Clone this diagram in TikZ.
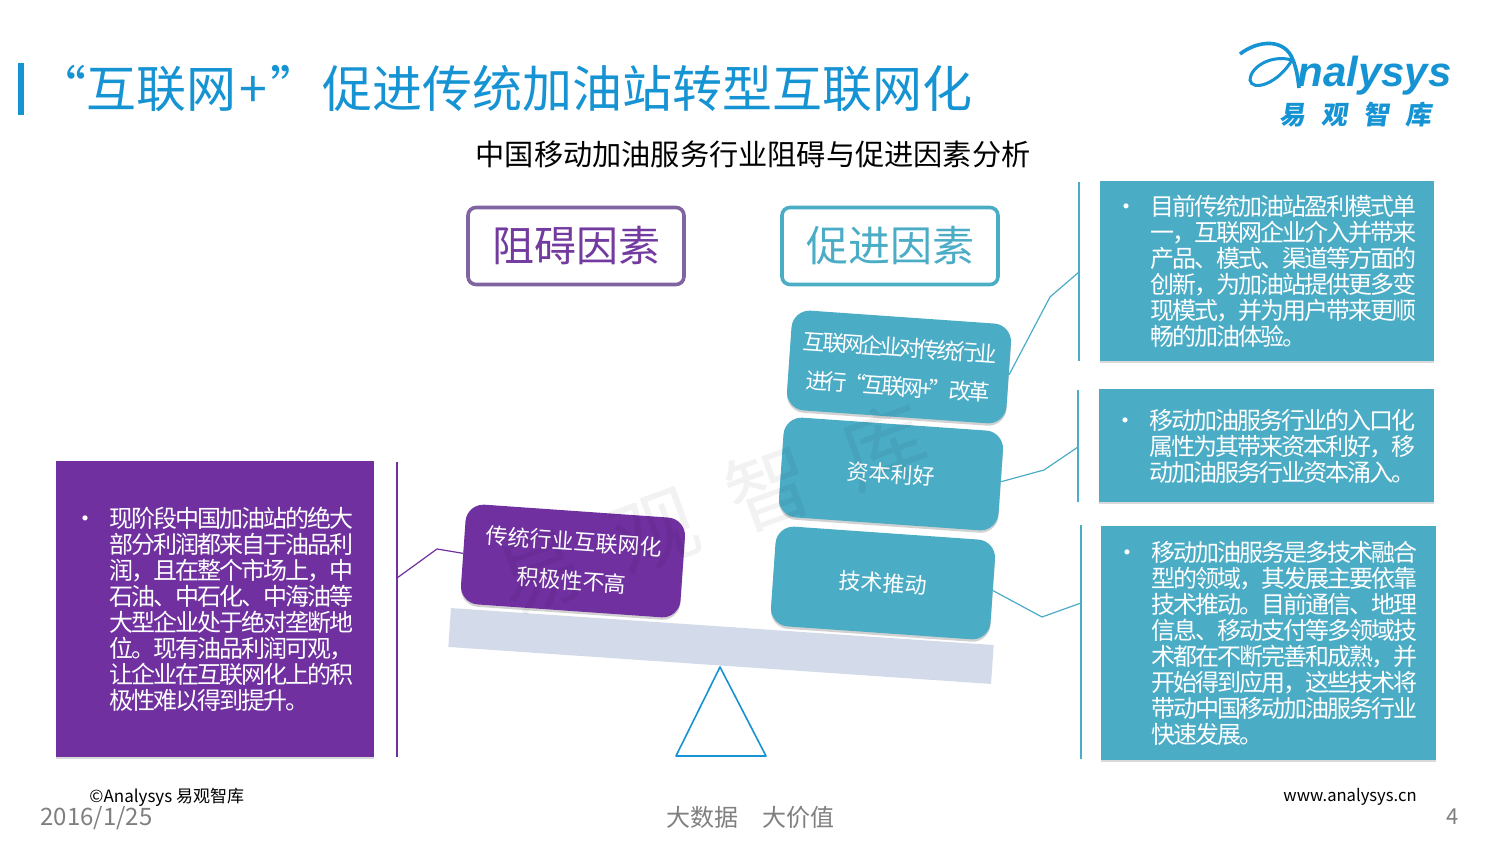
\documentclass[tikz,border=0pt]{standalone}
\usepackage{fontspec}
\usepackage{xcolor}
\usetikzlibrary{positioning, shadows}
\setmainfont{Noto Sans CJK SC}
\newfontfamily\bodyfont[LetterSpace=-8]{Noto Sans CJK SC}
\newfontfamily\tightfont[LetterSpace=-13]{Noto Sans CJK SC}
\newfontfamily\logofont[FakeSlant=0.15]{Noto Sans CJK SC}
\newfontfamily\logolatin{Liberation Sans}
\definecolor{titleblue}{HTML}{1593D3}
\definecolor{tealbox}{HTML}{4BACC6}
\definecolor{violet}{HTML}{7030A0}
\definecolor{softviolet}{HTML}{8064A2}
\definecolor{beamgray}{HTML}{D3DAE9}
\definecolor{footgray}{HTML}{7F7F7F}

\begin{document}
\begin{tikzpicture}[
  x=0.5pt, y=-0.5pt,
  panel/.style={minimum width=#1, inner sep=0pt, text=white,
                drop shadow={shadow xshift=0pt, shadow yshift=-1pt, opacity=0.25, fill=black!60}},
  bodytext/.style={inner sep=0pt, text=white, align=left, font=\bodyfont\fontsize{12}{13}\selectfont},
  factor/.style={draw=#1, line width=1.8pt, rounded corners=4pt, minimum width=108pt,
                 minimum height=38.5pt, inner sep=0pt, font=\fontsize{21}{24}\selectfont},
  weight/.style={fill=#1, rounded corners=9pt, text=white, minimum width=110pt, minimum height=50pt,
                 inner sep=0pt, rotate=-4, align=center, font=\fontsize{11}{19.5}\selectfont,
                 drop shadow={shadow xshift=0pt, shadow yshift=-1.2pt, opacity=0.3, fill=black!60}},
  bracket/.style={draw=#1, line width=0.9pt},
  leader/.style={draw=#1, line width=0.6pt},
  foot/.style={inner sep=0pt, font=\fontsize{#1}{#1}\selectfont}]
  \useasboundingbox (0,0) rectangle (1500,844);

  \fill[titleblue] (18,63) rectangle (24,115);
  \node[anchor=west, inner sep=0pt, text=titleblue, font=\fontsize{25}{28}\selectfont] (title) at (36,89)
    {“互联网\hspace{1.5pt}+\hspace{1.5pt}”\hspace{1pt}促进传统加油站转型互联网化};
  \node[inner sep=0pt, font=\fontsize{14.6}{18}\selectfont] (subtitle) at (753,154)
    {中国移动加油服务行业阻碍与促进因素分析};

  \draw[titleblue, line width=1.8pt] (1240,54) .. controls (1258,40) and (1285,38) .. (1293,60)
    .. controls (1297,70) and (1298,80) .. (1299,88);
  \draw[titleblue, line width=1.5pt] (1292,60) .. controls (1270,54) and (1250,68) .. (1250,80)
    .. controls (1252,92) and (1278,84) .. (1292,60);
  \node[anchor=base west, inner sep=0pt, text=titleblue, font=\logolatin\bfseries\itshape\fontsize{21}{21}\selectfont]
    (logoname) at (1297,87) {nalysys};
  \node[anchor=west, inner sep=0pt, text=titleblue, font=\logofont\bfseries\fontsize{13}{13}\selectfont]
    (logocn) at (1279,115) {易\hspace{8pt}观\hspace{8pt}智\hspace{8pt}库};

  \node[factor=softviolet, text=violet!80!softviolet] (barrier) at (576,246) {阻碍因素};
  \node[factor=tealbox, text=tealbox] (driver) at (890,246) {促进因素};

  \node[fill=beamgray, minimum width=272pt, minimum height=19.5pt, inner sep=0pt, rotate=-3.9] (beam) at (721,646) {};
  \coordinate (apex) at (720,667);
  \coordinate (footl) at (676,756);
  \coordinate (footr) at (766,756);
  \draw[titleblue, line width=0.8pt, line join=round] (apex) -- (footl) -- (footr) -- cycle;

  \node[weight=violet] (lag) at (573,561) {传统行业互联网化\\积极性不高};
  \node[weight=tealbox] (tech) at (883,583) {技术推动};
  \node[weight=tealbox] (capital) at (891,474) {资本利好};
  \node[weight=tealbox, font=\tightfont\fontsize{11}{19.5}\selectfont] (web) at (899,367)
    {互联网企业对传统行业\\进行“互联网+”改革};

  \node[panel=159pt, fill=violet, minimum height=148pt] (lagbox) at (215,609) {};
  \node[bodytext, right=26.5pt of lagbox.west] (lagtext)
    {\llap{•\hspace{6pt}}现阶段中国加油站的绝大\\部分利润都来自于油品利\\润，且在整个市场上，中\\石油、中石化、中海油等\\大型企业处于绝对垄断地\\位。现有油品利润可观，\\让企业在互联网化上的积\\极性难以得到提升。};
  \node[panel=167pt, fill=tealbox, minimum height=90pt] (webbox) at (1267,271) {};
  \node[bodytext, right=25pt of webbox.west] (webtext)
    {\llap{•\hspace{6pt}}目前传统加油站盈利模式单\\一，互联网企业介入并带来\\产品、模式、渠道等方面的\\创新，为加油站提供更多变\\现模式，并为用户带来更顺\\畅的加油体验。};
  \node[panel=167.5pt, fill=tealbox, minimum height=56.5pt] (capbox) at (1266.5,446) {};
  \node[bodytext, right=25pt of capbox.west] (captext)
    {\llap{•\hspace{6pt}}移动加油服务行业的入口化\\属性为其带来资本利好，移\\动加油服务行业资本涌入。};
  \node[panel=167.5pt, fill=tealbox, minimum height=117pt] (techbox) at (1268.5,643) {};
  \node[bodytext, right=25pt of techbox.west] (techtext)
    {\llap{•\hspace{6pt}}移动加油服务是多技术融合\\型的领域，其发展主要依靠\\技术推动。目前通信、地理\\信息、移动支付等多领域技\\术都在不断完善和成熟，并\\开始得到应用，这些技术将\\带动中国移动加油服务行业\\快速发展。};

  \coordinate (lagtop) at (397,462);
  \coordinate (lagend) at (397,757);
  \coordinate (lagbar) at (397,578);
  \coordinate (lagbend) at (437,549);
  \coordinate (webtop) at (1079,182);
  \coordinate (webend) at (1079,361);
  \coordinate (webbar) at (1079,272);
  \coordinate (webbend) at (1050,297);
  \coordinate (captop) at (1078,390);
  \coordinate (capend) at (1078,502);
  \coordinate (capbar) at (1078,447);
  \coordinate (capbend) at (1044,470);
  \coordinate (techtop) at (1081,525);
  \coordinate (techend) at (1081,759);
  \coordinate (techbar) at (1081,603);
  \coordinate (techbend) at (1042,617);
  \draw[bracket=violet] (lagtop) -- (lagend);
  \draw[bracket=tealbox] (webtop) -- (webend);
  \draw[bracket=tealbox] (captop) -- (capend);
  \draw[bracket=tealbox] (techtop) -- (techend);
  \draw[leader=violet] (lag.west) -- (lagbend) -- (lagbar);
  \draw[leader=tealbox] (web.east) -- (webbend) -- (webbar);
  \draw[leader=tealbox] (capital.east) -- (capbend) -- (capbar);
  \draw[leader=tealbox] (tech.east) -- (techbend) -- (techbar);

  \node[opacity=0.05, inner sep=0pt, rotate=20, font=\fontsize{42}{42}\selectfont] (stamp) at (712,509)
    {易\hspace{19pt}观\hspace{19pt}智\hspace{19pt}库};

  \node[foot=8.5, anchor=west] (copy) at (89,797) {©Analysys 易观智库};
  \node[foot=12, anchor=west, text=footgray] (date) at (40,818) {2016/1/25};
  \node[foot=12, text=footgray] (motto) at (750,817) {大数据\hspace{12pt}大价值};
  \node[foot=8.3, anchor=east] (site) at (1417,797) {www.analysys.cn};
  \node[foot=11, text=footgray] (page) at (1453,817) {4};
\end{tikzpicture}
\end{document}
